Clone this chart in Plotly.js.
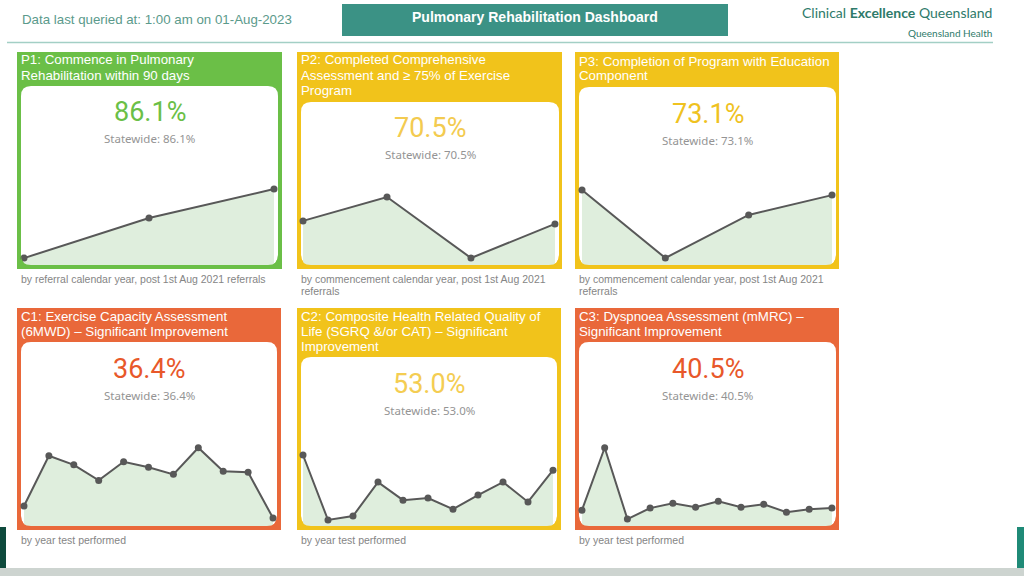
<!DOCTYPE html>
<html>
<head>
<meta charset="utf-8">
<script src="https://cdn.plot.ly/plotly-3.0.1.min.js"></script>
<style>
  html, body { margin: 0; padding: 0; background: #ffffff; }
  #chart { width: 1024px; height: 576px; }
</style>
</head>
<body>
<div id="chart"></div>
<script>
// ---------------- DATA ----------------
const p1Years = [2021, 2022, 2023];
const p1Values = [80.0, 85.8, 90.0];

const p2Years = [2020, 2021, 2022, 2023];
const p2Values = [71.3, 76.0, 64.0, 70.7];

const p3Years = [2020, 2021, 2022, 2023];
const p3Values = [78.0, 66.0, 73.6, 77.1];

const c1Years = [2013, 2014, 2015, 2016, 2017, 2018, 2019, 2020, 2021, 2022, 2023];
const c1Values = [30.4, 40.4, 38.6, 35.5, 39.2, 38.1, 36.7, 42.0, 37.3, 37.1, 28.0];

const c2Years = [2013, 2014, 2015, 2016, 2017, 2018, 2019, 2020, 2021, 2022, 2023];
const c2Values = [62.0, 44.0, 45.1, 54.5, 49.5, 50.1, 47.0, 50.9, 54.5, 49.0, 57.8];

const c3Years = [2012, 2013, 2014, 2015, 2016, 2017, 2018, 2019, 2020, 2021, 2022, 2023];
const c3Values = [39.0, 60.0, 36.0, 39.7, 41.3, 40.0, 42.0, 40.0, 41.0, 38.3, 39.3, 39.7];

const kpiValues = ["86.1%", "70.5%", "73.1%", "36.4%", "53.0%", "40.5%"];
const statewideLabels = ["Statewide: 86.1%", "Statewide: 70.5%", "Statewide: 73.1%",
                         "Statewide: 36.4%", "Statewide: 53.0%", "Statewide: 40.5%"];
const panelTitles = [
  ["P1: Commence in Pulmonary", "Rehabilitation within 90 days"],
  ["P2: Completed Comprehensive", "Assessment and \u2265 75% of Exercise", "Program"],
  ["P3: Completion of Program with Education", "Component"],
  ["C1: Exercise Capacity Assessment", "(6MWD) \u2013 Significant Improvement"],
  ["C2: Composite Health Related Quality of", "Life (SGRQ &/or CAT) \u2013 Significant", "Improvement"],
  ["C3: Dyspnoea Assessment (mMRC) \u2013", "Significant Improvement"]
];
const panelCaptions = [
  ["by referral calendar year, post 1st Aug 2021 referrals"],
  ["by commencement calendar year, post 1st Aug 2021", "referrals"],
  ["by commencement calendar year, post 1st Aug 2021", "referrals"],
  ["by year test performed"],
  ["by year test performed"],
  ["by year test performed"]
];
const headerLeft = "Data last queried at: 1:00 am on 01-Aug-2023";
const headerTitle = "Pulmonary Rehabilitation Dashboard";
const headerRight = "Clinical <b>Excellence</b> Queensland";
const headerRightSub = "Queensland Health";

// ---------------- LAYOUT / STYLE ----------------
const W = 1024, H = 576;
const X = px => px / W;
const Y = py => 1 - py / H;

const GREEN = "#6bbf47", YELLOW = "#f1c31b", ORANGE = "#e9683a";

const panels = [
  {years: p1Years, values: p1Values, color: GREEN, kpiColor: "#6bbf47",
   outer: [17, 52, 282, 269], inner: [21, 86, 278, 265], plotTop: 160,
   yr: [79.0, 94.2], xr: [-0.024, 2.032], kpiY: 112, titleY: 60, capY: 279},
  {years: p2Years, values: p2Values, color: YELLOW, kpiColor: "#f3cb50",
   outer: [297, 52, 562, 269], inner: [301, 102, 559, 265], plotTop: 170,
   yr: [62.62, 81.31], xr: [-0.024, 3.048], kpiY: 128, titleY: 60, capY: 279},
  {years: p3Years, values: p3Values, color: YELLOW, kpiColor: "#efc21f",
   outer: [575, 52, 839, 269], inner: [579, 87, 836, 265], plotTop: 160,
   yr: [64.76, 83.3], xr: [-0.036, 3.048], kpiY: 114, titleY: 61, capY: 279},
  {years: c1Years, values: c1Values, color: ORANGE, kpiColor: "#e8582a",
   outer: [17, 308, 281, 530], inner: [21, 342, 277, 526], plotTop: 420,
   yr: [26.42, 47.52], xr: [-0.12, 10.16], kpiY: 369, titleY: 316, capY: 540},
  {years: c2Years, values: c2Values, color: YELLOW, kpiColor: "#f4cd52",
   outer: [297, 308, 561, 530], inner: [301, 357, 557, 526], plotTop: 420,
   yr: [42.34, 71.69], xr: [-0.08, 10.16], kpiY: 384, titleY: 316, capY: 540},
  {years: c3Years, values: c3Values, color: ORANGE, kpiColor: "#e8582a",
   outer: [575, 308, 839, 530], inner: [579, 342, 836, 526], plotTop: 420,
   yr: [33.67, 69.33], xr: [-0.13, 11.18], kpiY: 369, titleY: 316, capY: 540}
];

function pt(x, y) { return X(x).toFixed(5) + "," + Y(y).toFixed(5); }
function roundRect(x0, y0, x1, y1, r) {
  return "M" + pt(x0 + r, y0) + " L" + pt(x1 - r, y0) + " Q" + pt(x1, y0) + " " + pt(x1, y0 + r) +
         " L" + pt(x1, y1 - r) + " Q" + pt(x1, y1) + " " + pt(x1 - r, y1) +
         " L" + pt(x0 + r, y1) + " Q" + pt(x0, y1) + " " + pt(x0, y1 - r) +
         " L" + pt(x0, y0 + r) + " Q" + pt(x0, y0) + " " + pt(x0 + r, y0) + " Z";
}
function cornerMaskBL(x0, y1, r) {
  return "M" + pt(x0, y1 - r) + " Q" + pt(x0, y1) + " " + pt(x0 + r, y1) + " L" + pt(x0 - 0.5, y1 + 0.5) + " Z";
}
function cornerMaskBR(x1, y1, r) {
  return "M" + pt(x1 - r, y1) + " Q" + pt(x1, y1) + " " + pt(x1, y1 - r) + " L" + pt(x1 + 0.5, y1 + 0.5) + " Z";
}

const traces = [];
const shapes = [];
const annotations = [];

const layout = {
  width: W, height: H,
  margin: {l: 0, r: 0, t: 0, b: 0, pad: 0},
  paper_bgcolor: "#ffffff",
  plot_bgcolor: "rgba(0,0,0,0)",
  showlegend: false,
  hovermode: false,
  shapes: shapes,
  annotations: annotations
};

// header shapes
shapes.push({type: "rect", xref: "paper", yref: "paper", x0: X(342), x1: X(728), y0: Y(36), y1: Y(4),
             fillcolor: "#3b9285", line: {width: 0}, layer: "below"});
shapes.push({type: "line", xref: "paper", yref: "paper", x0: X(7), x1: X(993), y0: Y(42.5), y1: Y(42.5),
             line: {color: "#a3cfc5", width: 1.5}, layer: "below"});
// footer
shapes.push({type: "rect", xref: "paper", yref: "paper", x0: 0, x1: 1, y0: 0, y1: Y(568),
             fillcolor: "#cdd4d0", line: {width: 0}, layer: "below"});
shapes.push({type: "rect", xref: "paper", yref: "paper", x0: 0, x1: X(6), y0: Y(568), y1: Y(527),
             fillcolor: "#0e4a3c", line: {width: 0}, layer: "below"});
shapes.push({type: "rect", xref: "paper", yref: "paper", x0: X(1017), x1: 1, y0: Y(568), y1: Y(527),
             fillcolor: "#1f8a77", line: {width: 0}, layer: "below"});

annotations.push({xref: "paper", yref: "paper", x: X(20), y: Y(20), xanchor: "left", yanchor: "middle",
                  text: headerLeft, showarrow: false,
                  font: {family: "Liberation Sans, Arial, sans-serif", size: 13.3, color: "#5b9a8b"}});
annotations.push({xref: "paper", yref: "paper", x: X(535), y: Y(17), xanchor: "center", yanchor: "middle",
                  text: "<b>" + headerTitle + "</b>", showarrow: false,
                  font: {family: "Liberation Sans, Arial, sans-serif", size: 14, color: "#ffffff"}});
annotations.push({xref: "paper", yref: "paper", x: X(994), y: Y(12), xanchor: "right", yanchor: "middle",
                  text: headerRight, showarrow: false,
                  font: {family: "Lato, sans-serif", size: 14, color: "#2e7a6a"}});
annotations.push({xref: "paper", yref: "paper", x: X(994), y: Y(33), xanchor: "right", yanchor: "middle",
                  text: headerRightSub, showarrow: false,
                  font: {family: "Lato, sans-serif", size: 10, color: "#2e7a6a"}});

panels.forEach((p, i) => {
  const n = i === 0 ? "" : String(i + 1);
  const [ox0, oy0, ox1, oy1] = p.outer;
  const [ix0, iy0, ix1, iy1] = p.inner;
  const r = 10;

  shapes.push({type: "rect", xref: "paper", yref: "paper", x0: X(ox0), x1: X(ox1), y0: Y(oy1), y1: Y(oy0),
               fillcolor: p.color, line: {width: 0}, layer: "below"});
  shapes.push({type: "path", xref: "paper", yref: "paper", path: roundRect(ix0, iy0, ix1, iy1, r),
               fillcolor: "#ffffff", line: {width: 0}, layer: "below"});
  shapes.push({type: "path", xref: "paper", yref: "paper", path: cornerMaskBL(ix0, iy1, r),
               fillcolor: p.color, line: {width: 0}, layer: "above"});
  shapes.push({type: "path", xref: "paper", yref: "paper", path: cornerMaskBR(ix1, iy1, r),
               fillcolor: p.color, line: {width: 0}, layer: "above"});

  traces.push({
    type: "scatter", mode: "lines+markers",
    x: p.years, y: p.values,
    xaxis: "x" + n, yaxis: "y" + n,
    fill: "tozeroy", fillcolor: "#dfeedd",
    line: {color: "#585858", width: 2},
    marker: {color: "#585858", size: 7},
    cliponaxis: false,
    hoverinfo: "skip"
  });

  layout["xaxis" + n] = {
    domain: [X(ix0), X(ix1)],
    range: [p.years[0] + p.xr[0], p.years[0] + p.xr[1]],
    visible: false, fixedrange: true,
    anchor: "y" + n
  };
  layout["yaxis" + n] = {
    domain: [Y(iy1), Y(p.plotTop)],
    range: p.yr,
    visible: false, fixedrange: true,
    anchor: "x" + n
  };

  panelTitles[i].forEach((line, k) => {
    annotations.push({xref: "paper", yref: "paper", x: X(ox0 + 2), y: Y(p.titleY + 15 * k),
                      xanchor: "left", yanchor: "middle", text: line, showarrow: false,
                      font: {family: "Liberation Sans, Arial, sans-serif", size: 13.3, color: "#ffffff"}});
  });
  const cx = (ix0 + ix1) / 2;
  annotations.push({xref: "paper", yref: "paper", x: X(cx), y: Y(p.kpiY), xanchor: "center", yanchor: "middle",
                    text: kpiValues[i], showarrow: false,
                    font: {family: "Roboto, sans-serif", size: 27, color: p.kpiColor}});
  annotations.push({xref: "paper", yref: "paper", x: X(cx), y: Y(p.kpiY + 26), xanchor: "center", yanchor: "middle",
                    text: statewideLabels[i], showarrow: false,
                    font: {family: "Noto Sans, Open Sans, sans-serif", size: 11.5, color: "#949494"}});
  panelCaptions[i].forEach((line, k) => {
    annotations.push({xref: "paper", yref: "paper", x: X(ox0 + 2), y: Y(p.capY + 12 * k),
                      xanchor: "left", yanchor: "middle", text: line, showarrow: false,
                      font: {family: "Liberation Sans, Arial, sans-serif", size: 10.5, color: "#858585"}});
  });
});

Plotly.newPlot("chart", traces, layout, {displayModeBar: false, staticPlot: true});
</script>
</body>
</html>
